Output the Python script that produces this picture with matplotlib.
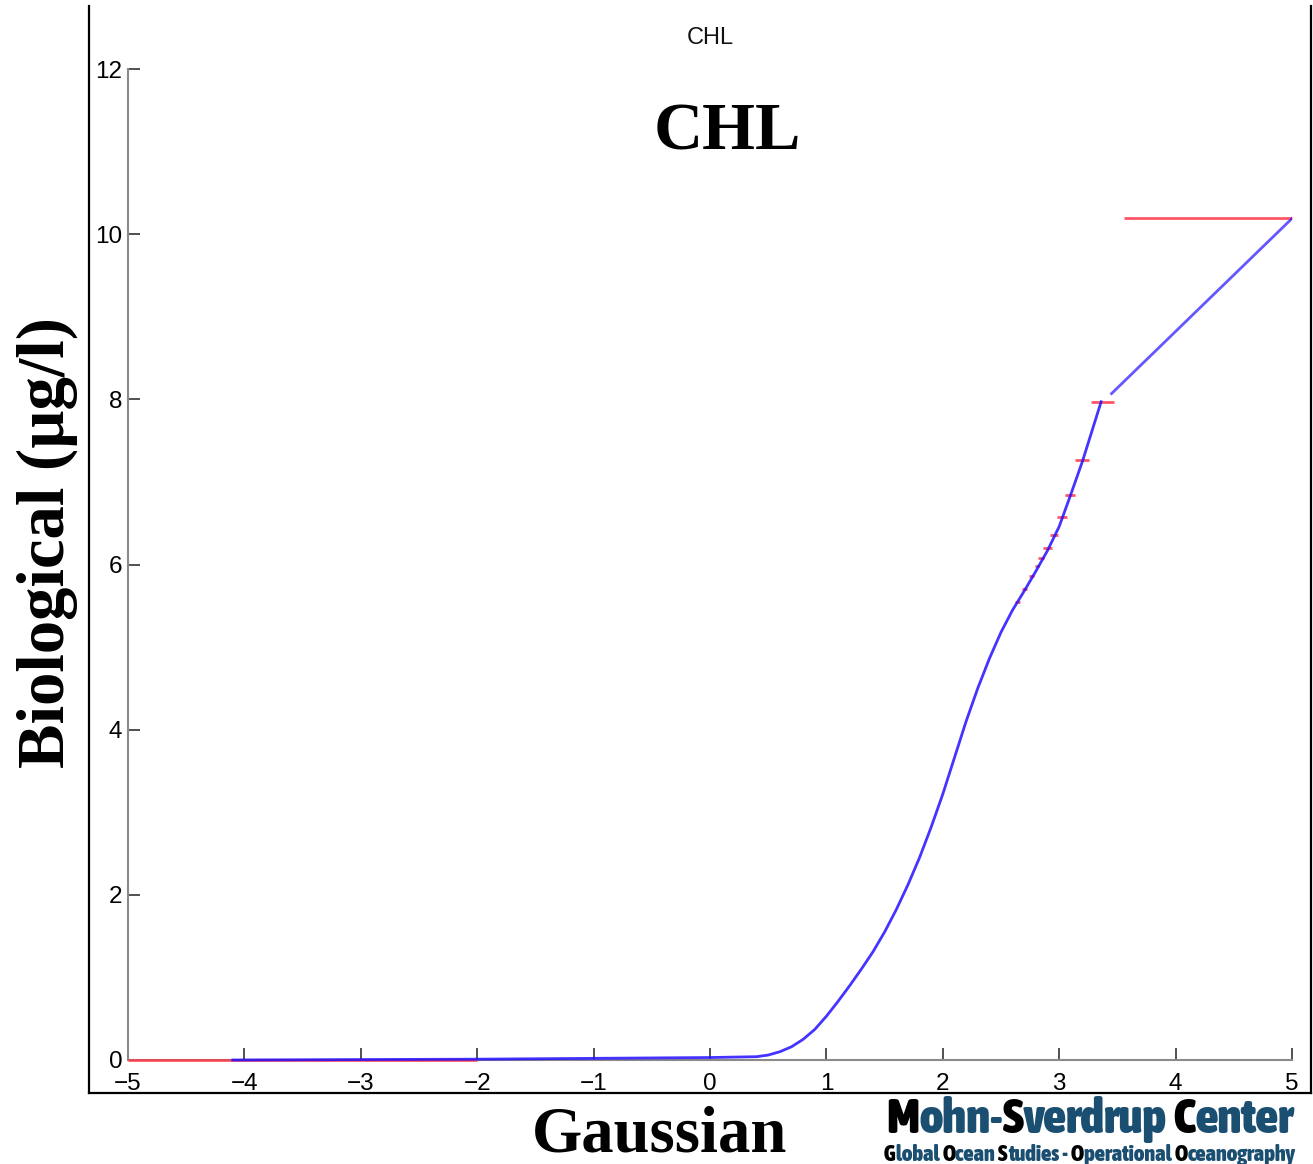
import numpy as np
import matplotlib
matplotlib.use("Agg")
import matplotlib.pyplot as plt
from matplotlib.lines import Line2D
from matplotlib import font_manager

# =============================
# DADOS
# =============================
# curva azul: transformação gaussiana -> CHL
gauss_x = [-4.1, -2.0, 0.0, 0.4, 0.5, 0.6, 0.7, 0.8, 0.9, 1.0, 1.1, 1.2, 1.3,
           1.4, 1.5, 1.6, 1.7, 1.8, 1.9, 2.0, 2.1, 2.2, 2.3, 2.4, 2.5, 2.6,
           2.7, 2.8, 2.9, 3.0, 3.1, 3.2, 3.3, 3.36]
chl_y = [0.0, 0.01, 0.03, 0.04, 0.06, 0.10, 0.16, 0.25, 0.37, 0.53, 0.71, 0.90,
         1.10, 1.31, 1.55, 1.82, 2.12, 2.45, 2.82, 3.22, 3.66, 4.10, 4.50,
         4.86, 5.18, 5.45, 5.68, 5.92, 6.17, 6.46, 6.85, 7.25, 7.70, 7.97]
# trecho final (extrapolação)
tail_x = [3.45, 5.0]
tail_y = [8.07, 10.19]

# patamares vermelhos (valores empíricos)
step_y = [0.0, 5.55, 5.70, 5.86, 5.98, 6.08, 6.20, 6.36, 6.57, 6.84, 7.26, 7.97, 10.19]
step_x0 = [-5.0, 2.62, 2.68, 2.74, 2.79, 2.82, 2.86, 2.92, 2.98, 3.05, 3.14, 3.27, 3.56]
step_x1 = [-2.0, 2.66, 2.72, 2.78, 2.83, 2.87, 2.94, 2.99, 3.07, 3.14, 3.26, 3.47, 5.00]

xticks = [-5, -4, -3, -2, -1, 0, 1, 2, 3, 4, 5]
yticks = [0, 2, 4, 6, 8, 10, 12]

# =============================
# FIGURA
# =============================
W, H = 1313, 1164
fig = plt.figure(figsize=(W / 100, H / 100), dpi=100)
fig.patch.set_facecolor("white")

def fx(px):
    return px / W

def fy(py):
    return 1 - py / H

ax = fig.add_axes([fx(128), fy(1060), fx(1292) - fx(128), fy(69) - fy(1060)])
ax.hlines(step_y, step_x0, step_x1, colors="#ff3a4a", linewidth=2.0,
          alpha=0.85, clip_on=False, zorder=3)
ax.plot(gauss_x, chl_y, color="#2410ff", linewidth=2.0, alpha=0.85,
        clip_on=False, zorder=4)
ax.plot(tail_x, tail_y, color="#2410ff", linewidth=2.0, alpha=0.7, zorder=4)

ax.set_xlim(-5, 5)
ax.set_ylim(0, 12)
ax.set_xticks(xticks)
ax.set_yticks(yticks)
for s in ["top", "right"]:
    ax.spines[s].set_visible(False)
for s in ["left", "bottom"]:
    ax.spines[s].set_color("#8a8a8a")
    ax.spines[s].set_linewidth(1.5)
ax.tick_params(direction="in", length=8.6, width=1.2, color="#333333",
               labelsize=17.5)
ax.tick_params(axis="x", pad=9)
ax.tick_params(axis="y", pad=4)
for lab in ax.get_xticklabels() + ax.get_yticklabels():
    lab.set_family(["Liberation Sans", "DejaVu Sans"])
ax.patch.set_alpha(0)

# moldura externa
frame_kw = dict(color="black", linewidth=1.6, transform=fig.transFigure)
fig.add_artist(Line2D([fx(89), fx(89)], [fy(1093), fy(6)], **frame_kw))
fig.add_artist(Line2D([fx(1311), fx(1311)], [fy(1093), fy(6)], **frame_kw))
fig.add_artist(Line2D([fx(89), fx(1311)], [fy(1093), fy(1093)], **frame_kw))

# textos
serif = ["Liberation Serif", "DejaVu Serif"]
fig.text(fx(710), fy(38), "CHL", fontsize=17, ha="center", va="center",
         family=["Liberation Sans", "DejaVu Sans"], color="#111111")
fig.text(fx(727), fy(150), "CHL", fontsize=49, fontweight="bold", ha="center",
         va="baseline", family=serif)
fig.text(fx(660), fy(1151), "Gaussian", fontsize=46.5, fontweight="bold",
         ha="center", va="baseline", family=serif)
fig.text(fx(47), fy(543), "Biological (µg/l)", fontsize=48, fontweight="bold",
         ha="center", va="center", rotation=90, family=serif)

# logo: procura uma fonte estreita e pesada
condensed = [f for f in font_manager.fontManager.ttflist
             if str(f.stretch) in ("condensed", "semi-condensed",
                                   "extra-condensed", "ultra-condensed")
             or "Narrow" in f.name or "Condensed" in f.name]
if condensed:
    best = max(condensed, key=lambda f: int(f.weight) if str(f.weight).isdigit() else 700)
    logo_kw = dict(fontproperties=font_manager.FontProperties(fname=best.fname))
else:
    logo_kw = dict(fontweight="heavy", family="DejaVu Sans")
blue = "#1b4f72"

renderer = fig.canvas.get_renderer()

def text_w(s, size):
    t = fig.text(0, 0, s, **logo_kw)
    t.set_fontsize(size)
    w = t.get_window_extent(renderer).width
    t.remove()
    return w

def logo_line(pieces, x0, y0, width):
    full = "".join(p for p, _ in pieces)
    size = 10 * width / text_w(full, 10)
    prefix = ""
    for s, c in pieces:
        x = text_w(prefix + s[0], size) - text_w(s[0], size) if prefix else 0
        t = fig.text(fx(x0 + x), fy(y0), s, color=c, va="baseline", ha="left",
                     **logo_kw)
        t.set_fontsize(size)
        prefix += s

k = "black"
logo_line([("M", k), ("ohn-", blue), ("S", k), ("verdrup ", blue), ("C", k),
           ("enter", blue)], 886, 1133, 408)
logo_line([("G", k), ("lobal ", blue), ("O", k), ("cean ", blue), ("S", k),
           ("tudies - ", blue), ("O", k), ("perational ", blue), ("O", k),
           ("ceanography", blue)], 884, 1161, 410)

fig.savefig("out.png", dpi=100, facecolor="white")
